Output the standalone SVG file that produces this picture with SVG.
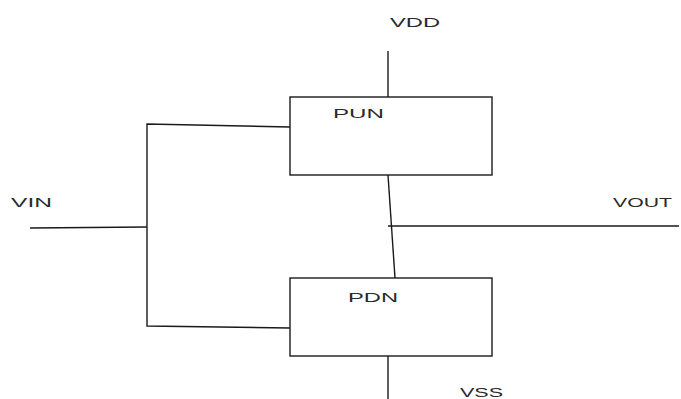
<svg xmlns="http://www.w3.org/2000/svg" width="681" height="399" viewBox="0 0 681 399">
<style>
.box{fill:#fff;stroke:#1a1a1a;stroke-width:1.4}
.w{fill:none;stroke:#1a1a1a;stroke-width:1.4}
text{font-family:"Liberation Sans",Arial,sans-serif;font-size:13.5px;fill:#2a2a2a}
</style>
<rect width="681" height="399" fill="#fff"/>
<g id="connectors">
<line class="w" x1="388" y1="51" x2="388" y2="97"/>
<line class="w" x1="388" y1="175" x2="395" y2="278"/>
<line class="w" x1="388" y1="226" x2="679" y2="226"/>
<line class="w" x1="388" y1="356" x2="388" y2="399"/>
<polyline class="w" points="290,127 147,124 147,326 290,328"/>
<line class="w" x1="30" y1="228" x2="147" y2="227"/>
</g>
<g id="PUN">
<rect class="box" x="290" y="97" width="202" height="78"/>
<text x="333" y="118" textLength="51" lengthAdjust="spacingAndGlyphs">PUN</text>
</g>
<g id="PDN">
<rect class="box" x="290" y="278" width="202" height="78"/>
<text x="348" y="302" textLength="50" lengthAdjust="spacingAndGlyphs">PDN</text>
</g>
<g id="VDD"><text x="390" y="27" textLength="50" lengthAdjust="spacingAndGlyphs">VDD</text></g>
<g id="VSS"><text x="460" y="397" textLength="43" lengthAdjust="spacingAndGlyphs">VSS</text></g>
<g id="VIN"><text x="11" y="207" textLength="41" lengthAdjust="spacingAndGlyphs">VIN</text></g>
<g id="VOUT"><text x="613" y="207" textLength="59" lengthAdjust="spacingAndGlyphs">VOUT</text></g>
</svg>
